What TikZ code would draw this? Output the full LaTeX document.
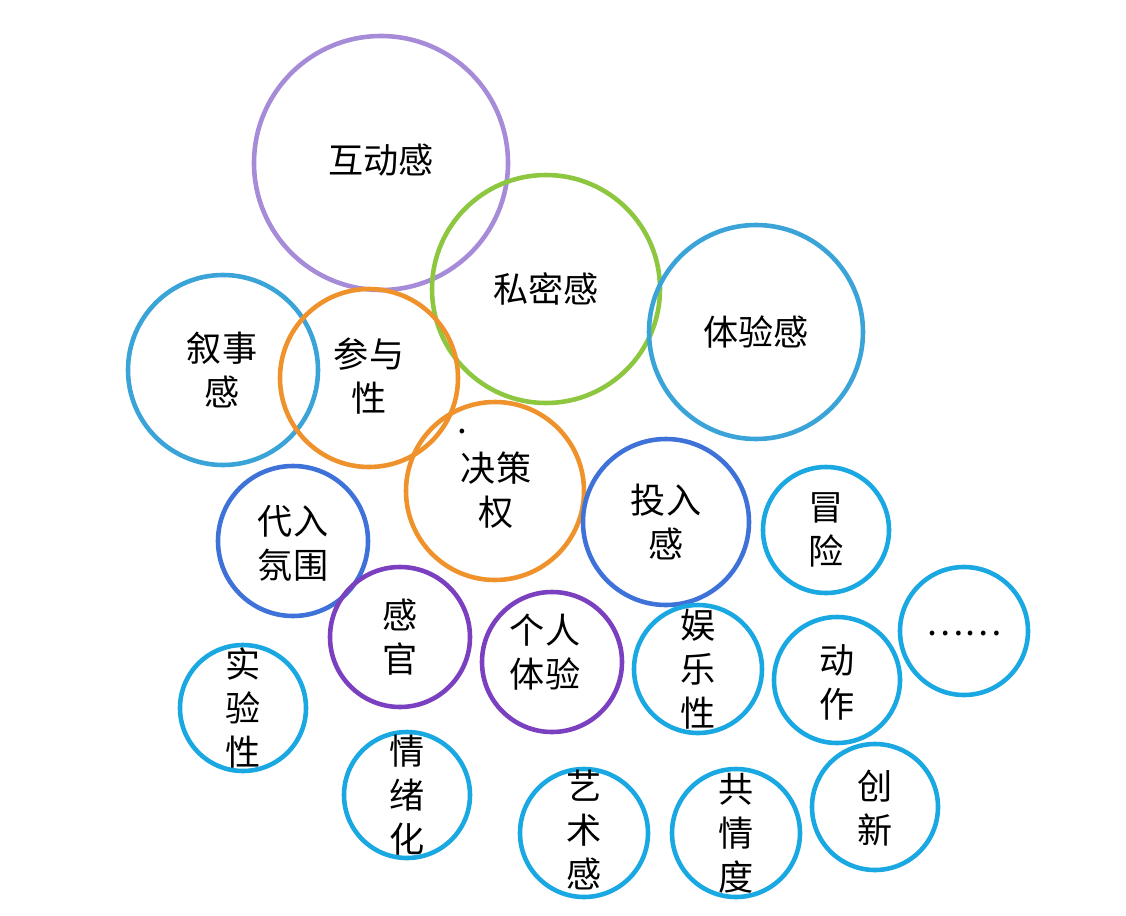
\documentclass[tikz,border=0pt]{standalone}
\usepackage{fontspec}
\setmainfont{Noto Sans CJK SC}
\begin{document}
\begin{tikzpicture}[x=0.02cm,y=-0.02cm,
  bub/.style={draw,line width=2.6pt},
  lbl/.style={font=\fontsize{20}{25}\selectfont,align=center,text=black}]
\definecolor{lpur}{HTML}{A68BD8}
\definecolor{grn}{HTML}{8DC63F}
\definecolor{blu}{HTML}{3AA3D8}
\definecolor{org}{HTML}{F0922B}
\definecolor{dblu}{HTML}{3F72D8}
\definecolor{pur}{HTML}{7B40C0}
\definecolor{cya}{HTML}{1AA8E2}
\useasboundingbox (0,0) rectangle (1126,916);
\fill[white] (0,0) rectangle (1126,916);
\draw[bub,lpur] (381,163) circle (127);
\draw[bub,grn] (546,289) circle (114);
\draw[bub,blu] (756,332) circle (107);
\draw[bub,blu] (223,370) circle (95);
\draw[bub,org] (369,378) circle (89);
\draw[bub,org] (495,491) circle (89);
\draw[bub,dblu] (666,522) circle (83);
\draw[bub,cya] (826,530) circle (63);
\draw[bub,cya] (964,631) circle (64);
\draw[bub,dblu] (293,541) circle (75);
\draw[bub,pur] (400,637) circle (70);
\draw[bub,pur] (552,662) circle (70);
\draw[bub,cya] (698,669) circle (64);
\draw[bub,cya] (837,680) circle (63);
\draw[bub,cya] (243,708) circle (63);
\draw[bub,cya] (407,795) circle (63);
\draw[bub,cya] (584,833) circle (64);
\draw[bub,cya] (736,833) circle (64);
\draw[bub,cya] (875,807) circle (63);
\node[lbl] (a) at (381,160) {互动感};
\node[lbl] (b) at (546,289) {私密感};
\node[lbl] (c) at (756,332) {体验感};
\node[lbl] (d) at (222,370) {叙事\\感};
\node[lbl] (e) at (369,376) {参与\\性};
\node[lbl] (f) at (496,490) {决策\\权};
\node[lbl] (dot) at (462,432) {.};
\node[lbl] (g) at (666,522) {投入\\感};
\node[lbl] (h) at (826,530) {冒\\险};
\node[lbl] (i) at (964,634) {……};
\node[lbl] (j) at (293,543) {代入\\氛围};
\node[lbl] (k) at (400,637) {感\\官};
\node[lbl] (l) at (545,652) {个人\\体验};
\node[lbl] (m) at (698,669) {娱\\乐\\性};
\node[lbl] (n) at (837,682) {动\\作};
\node[lbl] (o) at (243,708) {实\\验\\性};
\node[lbl] (p) at (407,795) {情\\绪\\化};
\node[lbl] (q) at (584,830) {艺\\术\\感};
\node[lbl] (r) at (736,833) {共\\情\\度};
\node[lbl] (s) at (875,808) {创\\新};
\end{tikzpicture}
\end{document}
